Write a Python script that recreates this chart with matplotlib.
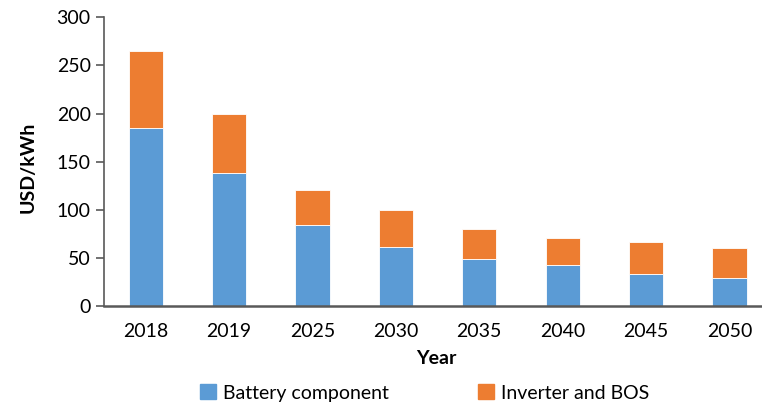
import matplotlib
matplotlib.use("Agg")
import matplotlib.pyplot as plt
from matplotlib.patches import Patch

years = ["2018", "2019", "2025", "2030", "2035", "2040", "2045", "2050"]
battery = [185, 138.5, 84, 61, 48.5, 43, 33, 29.5]
total = [265, 199, 121, 100, 80, 70.5, 66.5, 60.5]
inverter = [t - b for t, b in zip(total, battery)]
yticks = [0, 50, 100, 150, 200, 250, 300]

plt.rcParams['font.family'] = ['Lato', 'DejaVu Sans']
blue = "#5B9BD5"
orange = "#ED7D31"
axc = "#595959"
fs = 14

fig = plt.figure(figsize=(7.62, 4.08), dpi=100)
ax = fig.add_axes([104/762, 102/408, 658/762, 288.7/408])
x = range(len(years))
w = 0.41
ax.bar(x, battery, width=w, color=blue, edgecolor="white", linewidth=0.6)
ax.bar(x, inverter, bottom=battery, width=w, color=orange, edgecolor="white", linewidth=0.6)

ax.set_xlim(-0.5, (762 - 104) / 83.4 - 0.5)
ax.set_ylim(0, 300)
ax.set_yticks(yticks)
ax.set_yticklabels([str(v) for v in yticks], fontsize=fs)
ax.set_xticks(list(x))
ax.set_xticklabels(years, fontsize=fs)
ax.tick_params(axis='x', length=0, pad=12)
ax.tick_params(axis='y', length=5.8, width=1.2, color=axc, pad=3.8, direction='out')
for s in ["top", "right"]:
    ax.spines[s].set_visible(False)
ax.spines["left"].set_color(axc)
ax.spines["bottom"].set_color(axc)
ax.spines["left"].set_linewidth(1.2)
ax.spines["bottom"].set_linewidth(1.8)

ax.set_xlabel("Year", fontsize=fs, fontweight="bold")
ax.xaxis.set_label_coords(0.505, -0.154)
ax.set_ylabel("USD/kWh", fontsize=fs, fontweight="bold")
ax.yaxis.set_label_coords(-0.102, 0.48)

handles = [Patch(color=blue, label="Battery component"), Patch(color=orange, label="Inverter and BOS")]
fig.legend(handles=handles, loc="center left", bbox_to_anchor=(200/762, 1 - 393/408), ncol=2,
           frameon=False, fontsize=fs, handlelength=0.82, handleheight=0.82, borderpad=0,
           borderaxespad=0, handletextpad=0.36, columnspacing=4.6)

fig.savefig("out.png", dpi=100)
